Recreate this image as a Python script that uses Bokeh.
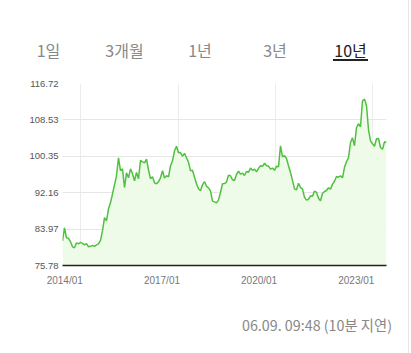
import pandas as pd
from bokeh.plotting import figure
from bokeh.layouts import column, row
from bokeh.models import Range1d, FixedTicker, ColumnDataSource, Div
from bokeh.embed import file_html
from bokeh.resources import INLINE

# ---- data ----
start_date = "2013-06-09"
end_date = "2023-06-09"
values = [
    81.33, 84.25, 82.01, 81.89, 81.11, 79.98, 79.76, 80.88, 80.66, 80.99,
    80.77, 80.43, 80.72, 79.98, 80.09, 80.32, 80.09, 80.43, 80.66, 81.44,
    83.58, 86.57, 85.83, 88.53, 89.88, 91.91, 93.93, 95.96, 100.01, 97.08,
    97.53, 93.32, 96.63, 95.51, 97.53, 96.41, 94.83, 96.70, 95.28, 99.44,
    99.10, 98.88, 99.71, 97.31, 95.28, 95.73, 94.38, 94.16, 94.61, 95.51,
    97.08, 95.44, 95.96, 95.73, 98.21, 99.33, 101.58, 102.59, 101.13, 101.20,
    100.34, 101.02, 100.01, 98.99, 97.08, 97.19, 95.62, 94.16, 93.03, 92.58,
    93.93, 94.67, 93.59, 93.26, 92.58, 90.26, 90.10, 89.88, 90.55, 92.20,
    94.16, 94.22, 94.54, 96.07, 95.96, 95.06, 94.90, 96.25, 97.01, 96.34,
    96.52, 96.02, 96.92, 96.76, 97.69, 97.19, 97.46, 96.85, 97.62, 98.21,
    98.09, 98.79, 98.21, 98.14, 97.46, 97.69, 97.19, 98.09, 97.98, 102.71,
    100.23, 100.46, 99.85, 98.21, 96.70, 94.94, 93.03, 92.80, 94.27, 93.32,
    93.03, 91.12, 90.49, 90.67, 91.46, 91.34, 92.51, 92.24, 90.89, 90.33,
    91.97, 92.42, 92.65, 93.26, 92.96, 94.09, 94.72, 95.80, 95.64, 95.96,
    95.51, 97.87, 99.17, 100.01, 103.45, 104.50, 102.71, 106.82, 107.66, 106.98,
    112.83, 113.21, 111.71, 106.37, 103.83, 103.16, 102.59, 104.28, 104.35, 102.32,
    101.92, 103.60, 103.45,
]
y_ticks = [75.78, 83.97, 92.16, 100.35, 108.53, 116.72]
y_tick_labels = ["75.78", "83.97", "92.16", "100.35", "108.53", "116.72"]
grid_dates = ["2014-01-01", "2017-01-01", "2020-01-01", "2023-01-01"]
x_label_dates = ["2013-07-04", "2016-07-04", "2019-07-04", "2022-07-04"]
x_tick_labels = ["2014/01", "2017/01", "2020/01", "2023/01"]
tabs = ["1일", "3개월", "1년", "3년", "10년"]
active_tab = "10년"
footer = "06.09. 09:48 (10분 지연)"

FONT = "'Noto Sans CJK KR', 'Noto Sans', sans-serif"
W = 408


def ms(s):
    return int(pd.Timestamp(s).value // 10**6)


# ---- header with period tabs ----
tab_x = [48.5, 124.5, 200, 275, 350.5]
spans = []
for t, cx in zip(tabs, tab_x):
    col = "#222222" if t == active_tab else "#888888"
    spans.append(
        f'<span style="position:absolute;left:{cx}px;top:50px;'
        f'transform:translate(-50%,-50%);white-space:nowrap;line-height:1;'
        f'font-size:16px;color:{col};">{t}</span>')
spans.append('<span style="position:absolute;left:333px;top:59px;width:35px;'
             'height:1.5px;background:#222222;"></span>')
head = Div(text=f'<div style="position:relative;width:{W}px;height:75px;'
                f'font-family:{FONT};">' + "".join(spans) + '</div>',
           width=W, height=75, margin=0)

# ---- main chart ----
dates = pd.date_range(start_date, end_date, periods=len(values))
src = ColumnDataSource(dict(date=dates, value=values))

p = figure(width=W, height=225, x_axis_type="datetime",
           output_backend="svg", toolbar_location=None,
           x_range=Range1d(dates[0], dates[-1]),
           y_range=Range1d(y_ticks[0], y_ticks[-1]),
           min_border_left=62, min_border_right=W - 386,
           min_border_top=8, min_border_bottom=35, margin=0)
p.outline_line_color = None
p.background_fill_color = "white"
p.border_fill_color = "white"

p.varea(x="date", y1=y_ticks[0], y2="value", source=src,
        fill_color="#eefbe9", fill_alpha=1.0)
p.line(x="date", y="value", source=src, line_color="#4fc13f", line_width=1.5)

p.yaxis.ticker = FixedTicker(ticks=y_ticks)
p.yaxis.major_label_overrides = {t: l for t, l in zip(y_ticks, y_tick_labels)}
p.yaxis.axis_line_color = None
p.yaxis.major_tick_line_color = None
p.yaxis.minor_tick_line_color = None
p.yaxis.major_tick_out = 0
p.yaxis.major_label_standoff = 4
p.yaxis.major_label_text_font = "Liberation Sans"
p.yaxis.major_label_text_font_size = "9.5px"
p.yaxis.major_label_text_color = "#555555"

x_ms = [ms(d) for d in x_label_dates]
p.xaxis.ticker = FixedTicker(ticks=x_ms)
p.xaxis.major_label_overrides = {t: l for t, l in zip(x_ms, x_tick_labels)}
p.xaxis.axis_line_color = "#222222"
p.xaxis.axis_line_width = 1.5
p.xaxis.major_tick_line_color = None
p.xaxis.minor_tick_line_color = None
p.xaxis.major_tick_out = 0
p.xaxis.major_label_standoff = 9
p.xaxis.major_label_text_font = "Liberation Sans"
p.xaxis.major_label_text_font_size = "10px"
p.xaxis.major_label_text_color = "#777777"

p.ygrid.grid_line_color = "#e6e6e6"
p.xgrid.ticker = FixedTicker(ticks=[ms(d) for d in grid_dates])
p.xgrid.grid_line_color = "#ececec"

# ---- footer with timestamp ----
foot = Div(text=f'<div style="position:relative;width:{W}px;height:53px;'
                f'font-family:{FONT};">'
                f'<span style="position:absolute;right:{W - 392}px;top:25px;'
                f'transform:translateY(-50%);white-space:nowrap;line-height:1;'
                f'font-size:14.3px;color:#888888;">{footer}</span></div>',
           width=W, height=53, margin=0)

# ---- thin right-hand rule ----
rule = Div(text='<div style="width:1px;height:353px;background:#e6e6e6;"></div>',
           width=1, height=353, margin=0)

layout = row(column(head, p, foot, spacing=0), rule, spacing=0)
open("out.html", "w").write(file_html(layout, INLINE))
